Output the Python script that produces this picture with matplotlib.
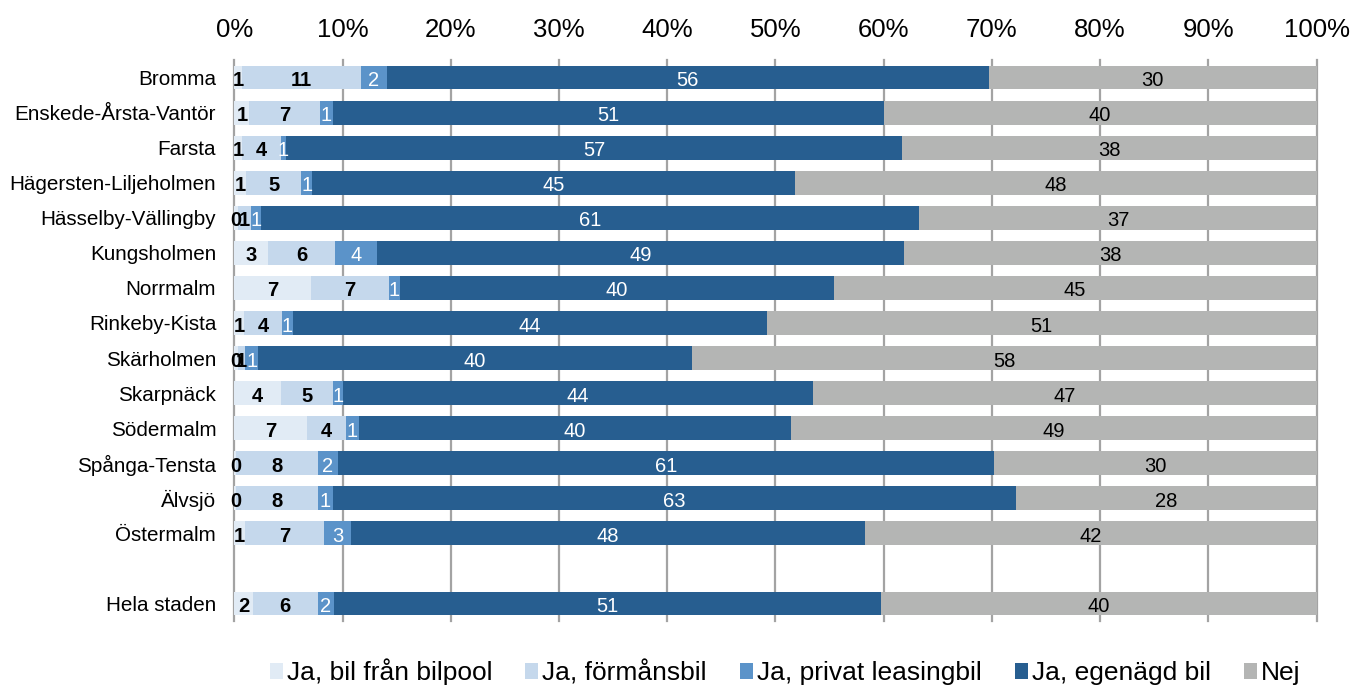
import numpy as np
import matplotlib
matplotlib.use("Agg")
import matplotlib.pyplot as plt
from matplotlib.patches import Patch

plt.rcParams['font.family'] = ['Liberation Sans', 'DejaVu Sans']

categories = ["Bromma", "Enskede-Årsta-Vantör", "Farsta", "Hägersten-Liljeholmen",
              "Hässelby-Vällingby", "Kungsholmen", "Norrmalm", "Rinkeby-Kista",
              "Skärholmen", "Skarpnäck", "Södermalm", "Spånga-Tensta", "Älvsjö",
              "Östermalm", "Hela staden"]

series_names = ["Ja, bil från bilpool", "Ja, förmånsbil", "Ja, privat leasingbil",
                "Ja, egenägd bil", "Nej"]

bilpool    = [0.7, 1.4, 0.7, 1.1, 0.3, 3.1, 7.1, 0.9, 0.3, 4.3, 6.7, 0.2, 0.2, 1.0, 1.7]
formansbil = [11.0, 6.5, 3.6, 5.1, 1.2, 6.2, 7.2, 3.5, 0.7, 4.8, 3.6, 7.5, 7.5, 7.3, 6.0]
leasing    = [2.4, 1.2, 0.5, 1.0, 1.0, 3.9, 1.0, 1.0, 1.2, 0.9, 1.2, 1.9, 1.4, 2.5, 1.5]
egenagd    = [55.6, 50.9, 56.9, 44.6, 60.8, 48.7, 40.1, 43.8, 40.1, 43.5, 39.9, 60.6, 63.1, 47.5, 50.6]
nej        = [30.3, 40.0, 38.3, 48.2, 36.7, 38.1, 44.6, 50.8, 57.7, 46.5, 48.6, 29.8, 27.8, 41.7, 40.2]

bilpool_lbl = [1, 1, 1, 1, 0, 3, 7, 1, 0, 4, 7, 0, 0, 1, 2]
formans_lbl = [11, 7, 4, 5, 1, 6, 7, 4, 1, 5, 4, 8, 8, 7, 6]
leasing_lbl = [2, 1, 1, 1, 1, 4, 1, 1, 1, 1, 1, 2, 1, 3, 2]
egen_lbl    = [56, 51, 57, 45, 61, 49, 40, 44, 40, 44, 40, 61, 63, 48, 51]
nej_lbl     = [30, 40, 38, 48, 37, 38, 45, 51, 58, 47, 49, 30, 28, 42, 40]

colors = ["#e1ebf5", "#c5d8ec", "#5b93c9", "#275e90", "#b4b5b4"]
label_styles = [("black", "bold"), ("black", "bold"), ("white", "normal"),
                ("white", "normal"), ("black", "normal")]

xticks = list(range(0, 101, 10))
xtick_labels = [f"{t}%" for t in xticks]

fig = plt.figure(figsize=(13.53, 6.86), dpi=100)
ax = fig.add_axes([234.3 / 1353, 1 - 621 / 686, (1316.5 - 234.3) / 1353, (621 - 60) / 686])

n = len(categories)
ypos = np.arange(n, dtype=float)
ypos[-1] += 1  # gap before the total row

data = [bilpool, formansbil, leasing, egenagd, nej]
labels = [bilpool_lbl, formans_lbl, leasing_lbl, egen_lbl, nej_lbl]
left = np.zeros(n)
for vals, lbls, col, (tc, fw), name in zip(data, labels, colors, label_styles, series_names):
    vals = np.array(vals)
    ax.barh(ypos, vals, left=left, height=0.68, color=col, label=name, zorder=2)
    for y, l0, v, lb in zip(ypos, left, vals, lbls):
        ax.text(l0 + v / 2, y + 0.03, str(lb), ha='center', va='center_baseline',
                fontsize=14.5, color=tc, fontweight=fw, zorder=3)
    left += vals

ax.set_xlim(0, 100)
ax.set_ylim(ypos[-1] + 0.5, -0.5)
ax.set_yticks(ypos)
ax.set_yticklabels(categories)
ax.xaxis.tick_top()
ax.set_xticks(xticks)
ax.set_xticklabels(xtick_labels)
ax.tick_params(axis='x', length=0, pad=13, labelsize=18.5)
ax.tick_params(axis='y', length=0, pad=13, labelsize=14.9)
for s in ax.spines.values():
    s.set_visible(False)
for t in xticks:
    ax.axvline(t, color="#a3a3a3", lw=1.6, zorder=0, clip_on=False)

handles = [Patch(facecolor=c, edgecolor='none') for c in colors]
fig.legend(handles, series_names, loc='center', bbox_to_anchor=(785 / 1353, 1 - 672 / 686),
           ncol=5, frameon=False, fontsize=19, handlelength=0.5, handleheight=0.6,
           handletextpad=0.15, columnspacing=1.25)

fig.savefig("out.png", dpi=100)
